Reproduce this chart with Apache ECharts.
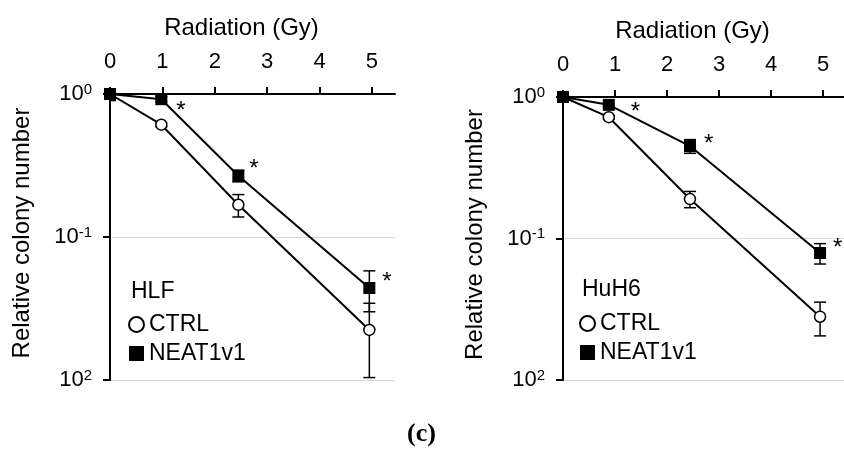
<!DOCTYPE html>
<html>
<head>
<meta charset="utf-8">
<script src="https://cdn.jsdelivr.net/npm/echarts@6/dist/echarts.min.js"></script>
<style>
  html, body { margin: 0; padding: 0; background: #fff; }
  #chart { width: 844px; height: 450px; }
</style>
</head>
<body>
<div id="chart"></div>
<script>
// HLF panel
var hlfDose = [0, 0.98, 2.45, 4.95];
var hlfCtrl = [1, 0.61, 0.168, 0.0224];
var hlfCtrlErr = [0.1, 0.02, 0.03, 0.012];
var hlfNeat = [1, 0.92, 0.268, 0.044];
var hlfNeatErr = [0, 0.04, 0.025, 0.014];
var hlfSig = [0, 1, 1, 1];

// HuH6 panel
var huh6Dose = [0, 0.88, 2.44, 4.94];
var huh6Ctrl = [1, 0.72, 0.19, 0.028];
var huh6CtrlErr = [0, 0.02, 0.025, 0.0075];
var huh6Neat = [1, 0.88, 0.45, 0.079];
var huh6NeatErr = [0, 0.02, 0.05, 0.013];
var huh6Sig = [0, 1, 1, 1];

var xTicks = [0, 1, 2, 3, 4, 5];
var yTicks = [0.01, 0.1, 1];
var yTickSup = ["2", "-1", "0"];

var FONT = "Liberation Sans, Arial, sans-serif";

var panels = [
  {
    cell: "HLF", dose: hlfDose, ctrl: hlfCtrl, ctrlErr: hlfCtrlErr,
    neat: hlfNeat, neatErr: hlfNeatErr, sig: hlfSig,
    grid: { left: 110, top: 94, width: 285, height: 286 }, xMax: 5.44,
    starOffset: [[0, 0], [4, 12], [0, -6], [2, -6]],
    cellPos: { left: 131, top: 280 }, legendPos: { left: 128, top: 313 }
  },
  {
    cell: "HuH6", dose: huh6Dose, ctrl: huh6Ctrl, ctrlErr: huh6CtrlErr,
    neat: huh6Neat, neatErr: huh6NeatErr, sig: huh6Sig,
    grid: { left: 563, top: 97, width: 281, height: 283 }, xMax: 5.4,
    starOffset: [[0, 0], [11, 8], [3, -2], [2, -5]],
    cellPos: { left: 582, top: 278 }, legendPos: { left: 579, top: 312 }
  }
];

function errRender(params, api) {
  var x = api.value(0), y = api.value(1), e = api.value(2);
  if (!e) return;
  var top = api.coord([x, y + e]);
  var bot = api.coord([x, Math.max(y - e, 1e-4)]);
  var hw = 6;
  var st = { stroke: "#000", lineWidth: 1.5 };
  return {
    type: "group",
    children: [
      { type: "line", shape: { x1: top[0], y1: top[1], x2: bot[0], y2: bot[1] }, style: st },
      { type: "line", shape: { x1: top[0] - hw, y1: top[1], x2: top[0] + hw, y2: top[1] }, style: st },
      { type: "line", shape: { x1: bot[0] - hw, y1: bot[1], x2: bot[0] + hw, y2: bot[1] }, style: st }
    ]
  };
}

function yLabel(v) {
  var e = Math.round(Math.log10(v));
  for (var k = 0; k < yTicks.length; k++) {
    if (Math.round(Math.log10(yTicks[k])) === e) return "{b|10}{s|" + yTickSup[k] + "}";
  }
  return "";
}

var grids = [], xAxes = [], yAxes = [], series = [], titles = [], legends = [];

panels.forEach(function (p, i) {
  grids.push(p.grid);
  xAxes.push({
    gridIndex: i, type: "value", position: "top", min: 0, max: p.xMax, interval: 1,
    name: "Radiation (Gy)", nameLocation: "middle", nameGap: 54,
    nameTextStyle: { fontSize: 24, color: "#000", fontFamily: FONT, padding: [0, 22, 0, 0] },
    axisLine: { onZero: false, lineStyle: { color: "#000", width: 2 } },
    axisTick: { show: true, length: 7, lineStyle: { color: "#000", width: 2 }, customValues: xTicks },
    axisLabel: { fontSize: 22, color: "#000", fontFamily: FONT, margin: 21, customValues: xTicks },
    splitLine: { show: false }
  });
  yAxes.push({
    gridIndex: i, type: "log", logBase: 10, min: 0.01, max: 1, interval: 1,
    name: "Relative colony number", nameLocation: "middle", nameGap: 76,
    nameTextStyle: { fontSize: 24, color: "#000", fontFamily: FONT, padding: [0, 0, 0, 8] },
    axisLine: { show: true, onZero: false, lineStyle: { color: "#000", width: 2 } },
    axisTick: { show: true, length: 7, lineStyle: { color: "#000", width: 2 } },
    minorTick: { show: false },
    axisLabel: {
      margin: 18, formatter: yLabel,
      rich: {
        b: { fontSize: 22, color: "#000", fontFamily: FONT, lineHeight: 24 },
        s: { fontSize: 15, color: "#000", fontFamily: FONT, verticalAlign: "top", lineHeight: 15 }
      }
    },
    splitLine: { show: true, lineStyle: { color: "#d9d9d9", width: 1 } }
  });

  series.push({
    type: "custom", name: "CTRL", xAxisIndex: i, yAxisIndex: i, z: 1, clip: true,
    renderItem: errRender,
    data: p.dose.map(function (d, k) { return [d, p.ctrl[k], p.ctrlErr[k]]; })
  });
  series.push({
    type: "custom", name: "NEAT1v1", xAxisIndex: i, yAxisIndex: i, z: 1, clip: true,
    renderItem: errRender,
    data: p.dose.map(function (d, k) { return [d, p.neat[k], p.neatErr[k]]; })
  });
  series.push({
    type: "line", name: "CTRL", xAxisIndex: i, yAxisIndex: i, z: 3,
    symbol: "circle", symbolSize: 11, showAllSymbol: true,
    itemStyle: { color: "#fff", borderColor: "#000", borderWidth: 1.5 },
    lineStyle: { color: "#000", width: 2 },
    data: p.dose.map(function (d, k) { return [d, p.ctrl[k]]; })
  });
  series.push({
    type: "line", name: "NEAT1v1", xAxisIndex: i, yAxisIndex: i, z: 4,
    symbol: "rect", symbolSize: 12, showAllSymbol: true,
    itemStyle: { color: "#000" },
    lineStyle: { color: "#000", width: 2 },
    data: p.dose.map(function (d, k) {
      return {
        value: [d, p.neat[k]],
        label: {
          show: !!p.sig[k], formatter: "*", position: "right", offset: p.starOffset[k],
          fontSize: 24, color: "#000", fontFamily: FONT
        }
      };
    })
  });

  titles.push({
    text: p.cell, left: p.cellPos.left, top: p.cellPos.top, padding: 0,
    textStyle: { fontSize: 23, fontWeight: "normal", color: "#000", fontFamily: FONT }
  });
  legends.push({
    orient: "vertical", left: p.legendPos.left, top: p.legendPos.top, padding: 0,
    itemWidth: 15, itemHeight: 15, itemGap: 6, selectedMode: false,
    textStyle: { fontSize: 23, color: "#000", fontFamily: FONT, lineHeight: 22 },
    data: [
      { name: "CTRL", icon: "circle", itemStyle: { color: "#fff", borderColor: "#000", borderWidth: 2 } },
      { name: "NEAT1v1", icon: "rect", itemStyle: { color: "#000", borderWidth: 0 } }
    ]
  });
});

var chart = echarts.init(document.getElementById("chart"));
chart.setOption({
  animation: false,
  backgroundColor: "#fff",
  title: titles,
  legend: legends,
  grid: grids,
  xAxis: xAxes,
  yAxis: yAxes,
  series: series,
  graphic: [{
    type: "text", left: 407, top: 421,
    style: { text: "(c)", fill: "#000", font: "bold 26px 'Liberation Serif', serif" }
  }]
});
</script>
</body>
</html>
